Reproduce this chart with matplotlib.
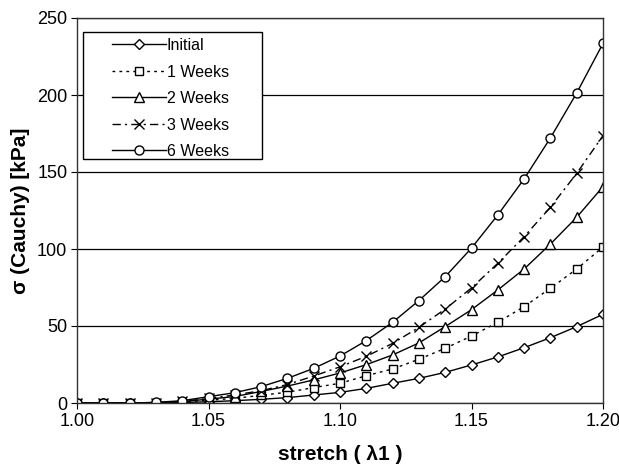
import numpy as np
import matplotlib
matplotlib.use("Agg")
import matplotlib.pyplot as plt
from matplotlib.patches import Rectangle

plt.rcParams['font.family'] = ['Liberation Sans', 'DejaVu Sans']

stretch = [1.00, 1.01, 1.02, 1.03, 1.04, 1.05, 1.06, 1.07, 1.08, 1.09, 1.10,
           1.11, 1.12, 1.13, 1.14, 1.15, 1.16, 1.17, 1.18, 1.19, 1.20]

initial = [0, 0, 0, 0.1, 0.3, 0.8, 1.5, 2.4, 3.5, 5.2, 6.9,
           9.5, 12.8, 16.0, 19.9, 24.7, 29.9, 35.9, 42.4, 49.6, 57.6]
week1 = [0, 0, 0, 0.2, 0.6, 1.8, 3.0, 5.0, 7.0, 10.0, 12.8,
         17.7, 22.1, 28.4, 35.5, 43.5, 52.4, 62.6, 74.5, 87.0, 101.3]
week2 = [0, 0, 0, 0.3, 0.9, 2.5, 4.2, 7.5, 11.0, 15.0, 19.5,
         24.9, 31.2, 39.0, 49.6, 60.6, 73.4, 87.0, 103.2, 120.6, 140.5]
week3 = [0, 0, 0, 0.3, 1.0, 3.0, 5.2, 8.0, 12.0, 17.5, 23.5,
         30.3, 38.7, 49.1, 61.0, 74.7, 90.7, 108.0, 127.1, 149.1, 173.6]
week6 = [0, 0, 0, 0.4, 1.5, 4.1, 6.7, 10.6, 16.0, 22.5, 30.5,
         40.5, 52.4, 66.5, 82.0, 100.6, 122.1, 145.5, 172.1, 201.3, 233.5]

# name, values, marker, size, linestyle
series = [("Initial", initial, "D", 5.5, "-"),
          ("1 Weeks", week1, "s", 5.5, (0, (2, 3))),
          ("2 Weeks", week2, "^", 6.5, "-"),
          ("3 Weeks", week3, "x", 6.5, (0, (6, 3, 1.5, 3))),
          ("6 Weeks", week6, "o", 6.5, "-")]

fig = plt.figure(figsize=(6.19, 4.67), dpi=100)
ax = fig.add_axes([77/619, 1 - 403/467, 526/619, 385/467])

for name, vals, mk, ms, ls in series:
    ax.plot(stretch, vals, color="black", linestyle=ls, linewidth=1.0,
            marker=mk, markersize=ms, markerfacecolor="white",
            markeredgecolor="black", markeredgewidth=1.0, label=name)

ax.set_xlim(1.0, 1.2)
ax.set_ylim(0, 250)
ax.set_xticks([1.00, 1.05, 1.10, 1.15, 1.20])
ax.set_xticklabels(["1.00", "1.05", "1.10", "1.15", "1.20"])
ax.set_yticks([0, 50, 100, 150, 200, 250])
ax.yaxis.grid(True, color="black", linewidth=0.9)
ax.set_axisbelow(True)
ax.tick_params(labelsize=13, length=4, direction="out", pad=3)
for s in ax.spines.values():
    s.set_linewidth(1.0)
    s.set_color("#333333")

ax.set_xlabel("stretch ( λ1 )", fontsize=15, fontweight="bold", labelpad=11)
ax.set_ylabel("σ (Cauchy) [kPa]", fontsize=15, fontweight="bold", labelpad=5)

# legend box drawn by hand so the padding matches
ax.add_patch(Rectangle((0.0114, 0.634), 0.341, 0.330, transform=ax.transAxes,
                       facecolor="white", edgecolor="black", linewidth=1.0,
                       zorder=4.5))
leg = ax.legend(loc="upper left", bbox_to_anchor=(0.066, 0.948), fontsize=11.5,
                frameon=False, handlelength=3.4, handletextpad=0.05,
                labelspacing=0.72, borderpad=0, borderaxespad=0)
leg.set_zorder(5)

fig.savefig("out.png", dpi=100)
